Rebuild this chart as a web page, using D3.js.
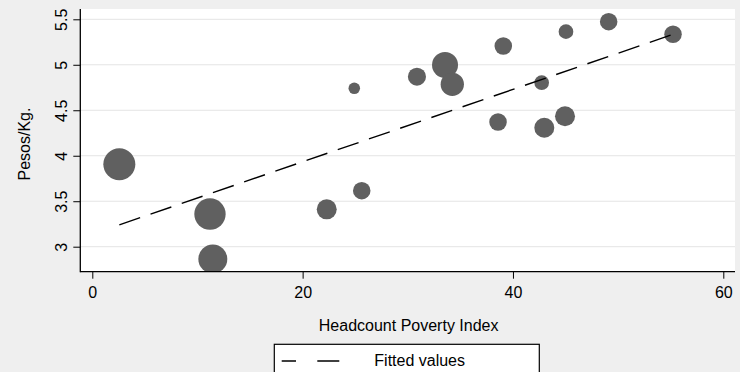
<!DOCTYPE html>
<html>
<head>
<meta charset="utf-8">
<script src="https://cdn.jsdelivr.net/npm/d3@7"></script>
<style>
  html, body { margin: 0; padding: 0; background: #efefef; }
  svg { display: block; }
  text { font-family: "Liberation Sans", Arial, sans-serif; fill: #000; }
</style>
</head>
<body>
<svg id="chart" width="740" height="372"></svg>
<script>
// ---- data ----
const povertyIndex = [2.57, 11.19, 11.46, 22.29, 25.62, 24.91, 30.87, 33.54, 34.23, 39.08, 38.58, 42.73, 42.98, 44.95, 45.04, 49.10, 55.22];
const pesosPerKg   = [3.906, 3.359, 2.865, 3.411, 3.616, 4.741, 4.869, 4.998, 4.785, 5.206, 4.371, 4.803, 4.308, 4.434, 5.364, 5.474, 5.335];
const weights      = [100, 96, 82, 39, 30, 13, 32, 66, 53, 30, 30, 21, 39, 39, 21, 30, 30];
const fittedX = [2.57, 55.22];
const fittedY = [3.24, 5.335];
const xTicks = [0, 20, 40, 60];
const yTicks = [3, 3.5, 4, 4.5, 5, 5.5];
const xTitle = "Headcount Poverty Index";
const yTitle = "Pesos/Kg.";
const legendLabel = "Fitted values";

// ---- layout ----
const W = 740, H = 372;
const plot = { left: 80.3, right: 735, top: 9, bottom: 271.7 };

const svg = d3.select("#chart");

const x = d3.scaleLinear().domain([0, 60]).range([92.3, 723.3]);
const y = d3.scaleLinear().domain([3, 5.5]).range([246.7, 19.3]);
const r = d3.scaleSqrt().domain([0, d3.max(weights)]).range([0, 16]);

// plot region
svg.append("rect")
  .attr("x", plot.left).attr("y", plot.top)
  .attr("width", plot.right - plot.left).attr("height", plot.bottom - plot.top)
  .attr("fill", "#ffffff");

// gridlines
svg.append("g").selectAll("line").data(yTicks).join("line")
  .attr("x1", plot.left).attr("x2", plot.right)
  .attr("y1", d => y(d)).attr("y2", d => y(d))
  .attr("stroke", "#e4e4e4").attr("stroke-width", 1);

// markers
const pts = povertyIndex.map((v, i) => ({ x: v, y: pesosPerKg[i], w: weights[i] }));
const clipId = "plotclip";
svg.append("clipPath").attr("id", clipId).append("rect")
  .attr("x", plot.left).attr("y", plot.top)
  .attr("width", plot.right - plot.left).attr("height", plot.bottom - plot.top);

svg.append("g").attr("clip-path", `url(#${clipId})`)
  .selectAll("circle").data(pts).join("circle")
  .attr("cx", d => x(d.x)).attr("cy", d => y(d.y)).attr("r", d => r(d.w))
  .attr("fill", "#606060");

// fitted line
const fit = fittedX.map((v, i) => [v, fittedY[i]]);
svg.append("path")
  .datum(fit)
  .attr("d", d3.line().x(d => x(d[0])).y(d => y(d[1])))
  .attr("fill", "none").attr("stroke", "#000").attr("stroke-width", 1.4)
  .attr("stroke-dasharray", "22,11");

// axes
const xAxis = d3.axisBottom(x).tickValues(xTicks).tickSize(7).tickPadding(6).tickFormat(d3.format("d"));
const gx = svg.append("g").attr("transform", `translate(0,${plot.bottom})`).call(xAxis);
gx.select(".domain").remove();
gx.selectAll(".tick line").attr("stroke", "#000");
gx.selectAll(".tick text").attr("font-size", 16).attr("font-family", "Liberation Sans, Arial, sans-serif")
  .attr("fill", "#000").attr("dy", null).attr("y", 26.6);

const yAxis = d3.axisLeft(y).tickValues(yTicks).tickSize(7).tickFormat(d => d3.format("")(d));
const gy = svg.append("g").attr("transform", `translate(${plot.left},0)`).call(yAxis);
gy.select(".domain").remove();
gy.selectAll(".tick line").attr("stroke", "#000");
gy.selectAll(".tick text")
  .attr("font-size", 16).attr("font-family", "Liberation Sans, Arial, sans-serif").attr("fill", "#000")
  .attr("x", null).attr("dy", null).attr("text-anchor", "middle")
  .attr("transform", "translate(-13.6,0) rotate(-90)");

// axis lines
svg.append("line").attr("x1", plot.left).attr("x2", plot.left).attr("y1", plot.top).attr("y2", plot.bottom + 0.5)
  .attr("stroke", "#000").attr("stroke-width", 1.3);
svg.append("line").attr("x1", plot.left).attr("x2", plot.right).attr("y1", plot.bottom).attr("y2", plot.bottom)
  .attr("stroke", "#000").attr("stroke-width", 1.3);

// titles
svg.append("text").attr("x", (plot.left + plot.right) / 2 + 1).attr("y", 330.7)
  .attr("text-anchor", "middle").attr("font-size", 16).text(xTitle);
svg.append("text").attr("transform", "translate(30,144) rotate(-90)")
  .attr("text-anchor", "middle").attr("font-size", 16).text(yTitle);

// legend
const leg = svg.append("g");
leg.append("rect").attr("x", 274.3).attr("y", 344.3).attr("width", 265).attr("height", 40)
  .attr("fill", "#ffffff").attr("stroke", "#000").attr("stroke-width", 1.2);
leg.append("line").attr("x1", 281.7).attr("x2", 339.3).attr("y1", 361).attr("y2", 361)
  .attr("stroke", "#000").attr("stroke-width", 1.4).attr("stroke-dasharray", "14.3,21.3,22.3");
leg.append("text").attr("x", 374.3).attr("y", 365.7).attr("font-size", 16).text(legendLabel);
</script>
</body>
</html>
